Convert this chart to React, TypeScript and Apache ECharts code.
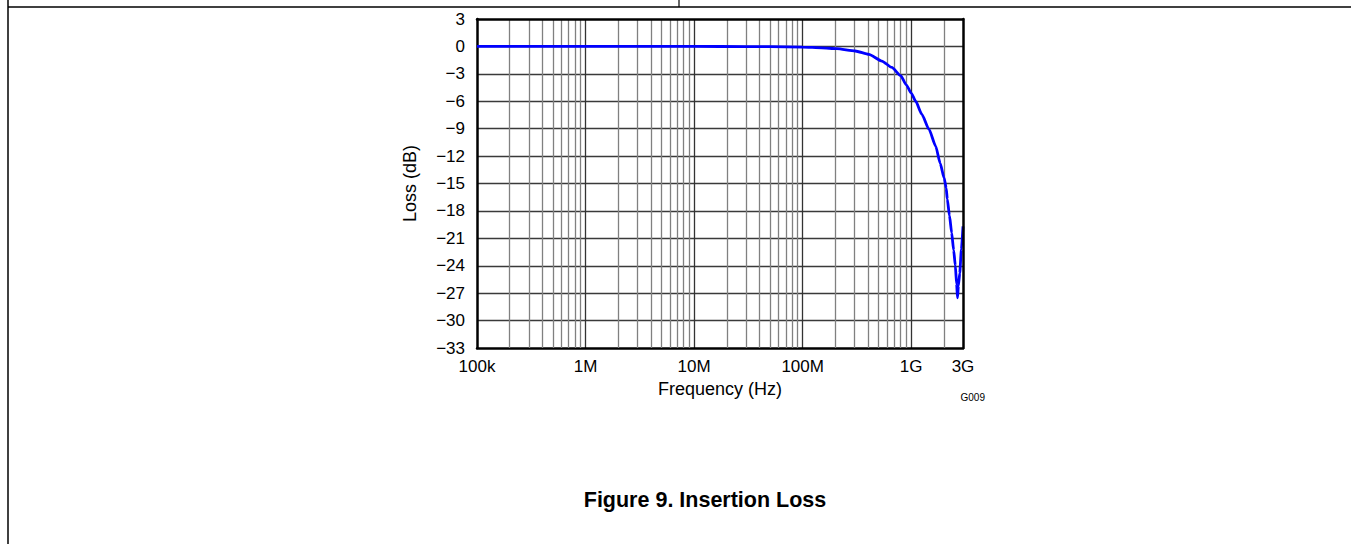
import React, { useEffect, useRef } from "react";
import * as echarts from "echarts";

// Insertion loss curve: frequency (Hz) and loss (dB)
const freqHz: number[] = [
  1e5, 3e5, 1e6, 3e6, 1e7, 3e7, 5e7, 1e8, 1.5e8, 2.06e8, 3.05e8, 4.08e8,
  5.37e8, 6.63e8, 8e8, 9e8, 1e9, 1.1e9, 1.25e9, 1.46e9, 1.68e9, 1.85e9,
  2.01e9, 2.1e9, 2.15e9, 2.25e9, 2.36e9, 2.46e9, 2.55e9, 2.62e9, 2.67e9,
  2.72e9, 2.8e9, 2.9e9, 3e9,
];
const lossDb: number[] = [
  0, 0, 0, 0, 0, -0.02, -0.03, -0.07, -0.15, -0.25, -0.5, -0.87, -1.6, -2.3,
  -3.2, -4.2, -5.1, -6.0, -7.4, -9.08, -10.9, -12.8, -14.4, -15.5, -16.7,
  -18.5, -20.4, -22.3, -24.0, -26.0, -27.5, -26.2, -24.8, -22.2, -19.7,
];

// Axis ticks
const xTickValues: number[] = [1e5, 1e6, 1e7, 1e8, 1e9, 3e9];
const xTickLabels: string[] = ["100k", "1M", "10M", "100M", "1G", "3G"];
const xMinorGrid: number[] = [
  2e5, 3e5, 4e5, 5e5, 6e5, 7e5, 8e5, 9e5,
  2e6, 3e6, 4e6, 5e6, 6e6, 7e6, 8e6, 9e6,
  2e7, 3e7, 4e7, 5e7, 6e7, 7e7, 8e7, 9e7,
  2e8, 3e8, 4e8, 5e8, 6e8, 7e8, 8e8, 9e8,
  2e9,
];
const yMin = -33;
const yMax = 3;
const yStep = 3;

const FONT = "'Liberation Sans', Arial, Helvetica, sans-serif";

function xLabel(v: number): string {
  let best = 0;
  let bestD = Infinity;
  xTickValues.forEach((t, i) => {
    const d = Math.abs(Math.log10(v) - Math.log10(t));
    if (d < bestD) {
      bestD = d;
      best = i;
    }
  });
  return xTickLabels[best];
}

function yLabel(v: number): string {
  return v < 0 ? "\u2212" + String(-v) : String(v);
}

export default function App() {
  const ref = useRef<HTMLDivElement>(null);

  useEffect(() => {
    if (!ref.current) return;
    const chart = echarts.init(ref.current, undefined, { renderer: "svg" });
    const data = freqHz.map((f, i) => [f, lossDb[i]]);
    chart.setOption({
      animation: false,
      backgroundColor: "#ffffff",
      textStyle: { fontFamily: FONT },
      grid: {
        left: 477,
        top: 19,
        right: 388,
        bottom: 196,
        show: false,
      },
      xAxis: [
        {
          type: "log",
          logBase: 10,
          min: xTickValues[0],
          max: xTickValues[xTickValues.length - 1],
          position: "bottom",
          name: "Frequency (Hz)",
          nameLocation: "middle",
          nameGap: 32,
          nameTextStyle: { fontSize: 18, color: "#000", fontFamily: FONT },
          axisLine: { show: true, onZero: false, lineStyle: { color: "#000", width: 2.5 } },
          axisTick: { show: false },
          axisLabel: {
            show: true,
            color: "#000",
            fontSize: 17,
            fontFamily: FONT,
            margin: 10,
            formatter: (v: number) => xLabel(v),
          },
          splitLine: {
            show: true,
            showMinLine: false,
            showMaxLine: false,
            lineStyle: { color: "#333", width: 1.3 },
          },
          z: 1,
        },
        {
          type: "log",
          logBase: 10,
          min: xTickValues[0],
          max: xTickValues[xTickValues.length - 1],
          position: "top",
          axisLine: { show: true, onZero: false, lineStyle: { color: "#000", width: 2.5 } },
          axisTick: { show: false },
          axisLabel: { show: false },
          splitLine: { show: false },
          z: 10,
        },
      ],
      yAxis: [
        {
          type: "value",
          min: yMin,
          max: yMax,
          interval: yStep,
          position: "left",
          name: "Loss (dB)",
          nameLocation: "middle",
          nameGap: 58,
          nameRotate: 90,
          nameTextStyle: { fontSize: 18, color: "#000", fontFamily: FONT },
          axisLine: { show: true, onZero: false, lineStyle: { color: "#000", width: 2.5 } },
          axisTick: { show: false },
          axisLabel: {
            color: "#000",
            fontSize: 17,
            fontFamily: FONT,
            margin: 12,
            formatter: (v: number) => yLabel(v),
          },
          splitLine: {
            show: true,
            showMinLine: false,
            showMaxLine: false,
            lineStyle: { color: "#3a3a3a", width: 1.4 },
          },
          z: 1,
        },
        {
          type: "value",
          min: yMin,
          max: yMax,
          interval: yStep,
          position: "right",
          axisLine: { show: true, onZero: false, lineStyle: { color: "#000", width: 2.5 } },
          axisTick: { show: false },
          axisLabel: { show: false },
          splitLine: { show: false },
          z: 10,
        },
      ],
      series: [
        {
          type: "line",
          xAxisIndex: 0,
          yAxisIndex: 0,
          data: [[xTickValues[0], 0]],
          symbol: "none",
          lineStyle: { opacity: 0 },
          silent: true,
          z: 1,
          markLine: {
            silent: true,
            symbol: ["none", "none"],
            label: { show: false },
            animation: false,
            lineStyle: { color: "#808080", width: 1.3, type: "solid" },
            data: xMinorGrid.map((v) => ({ xAxis: v })),
          },
        },
        {
          type: "line",
          xAxisIndex: 0,
          yAxisIndex: 0,
          data,
          symbol: "none",
          smooth: 0.2,
          smoothMonotone: "x",
          lineStyle: { color: "#0000ff", width: 2.8 },
          z: 5,
        },
      ],
      graphic: [
        {
          type: "line",
          shape: { x1: 8, y1: 7, x2: 1351, y2: 7 },
          style: { stroke: "#000", lineWidth: 1.5 },
        },
        {
          type: "line",
          shape: { x1: 679, y1: 0, x2: 679, y2: 7 },
          style: { stroke: "#000", lineWidth: 1.2 },
        },
        {
          type: "line",
          shape: { x1: 8, y1: 0, x2: 8, y2: 544 },
          style: { stroke: "#000", lineWidth: 1.5 },
        },
        {
          type: "text",
          x: 985,
          y: 397,
          style: {
            text: "G009",
            fontSize: 10,
            fontFamily: FONT,
            fill: "#000",
            align: "right",
            verticalAlign: "middle",
          },
        },
        {
          type: "text",
          x: 705,
          y: 500,
          style: {
            text: "Figure 9. Insertion Loss",
            fontSize: 21.5,
            fontWeight: "bold",
            fontFamily: FONT,
            fill: "#000",
            align: "center",
            verticalAlign: "middle",
          },
        },
      ],
    });
    return () => chart.dispose();
  }, []);

  return (
    <div
      ref={ref}
      style={{ position: "absolute", left: 0, top: 0, width: 1351, height: 544 }}
    />
  );
}
